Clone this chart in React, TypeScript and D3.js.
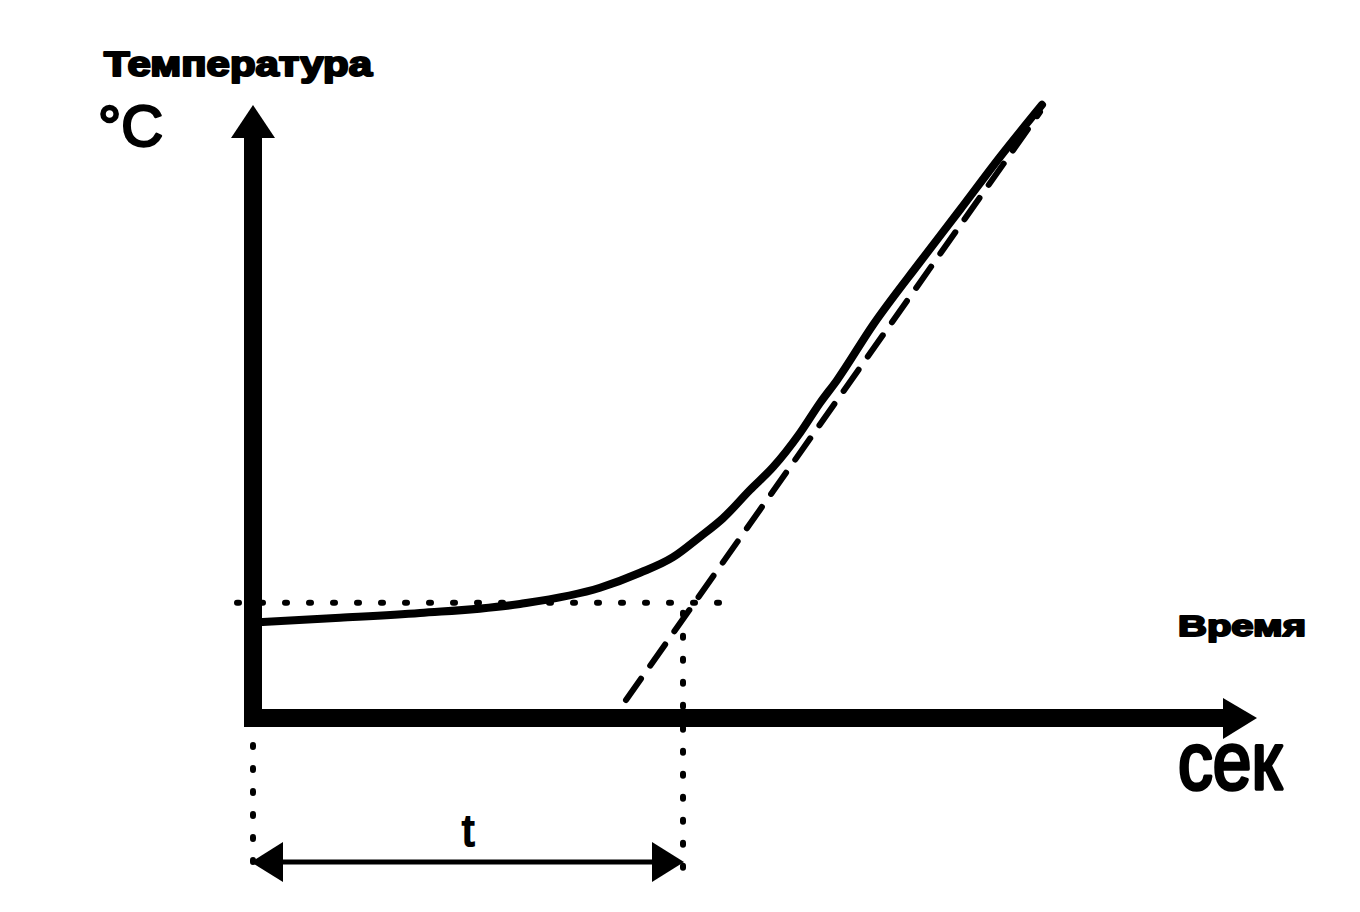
import React from "react";
import * as d3 from "d3";

// Heating curve (time in arbitrary units, temperature in arbitrary units)
const curveTime = [0.9, 8.7, 16.7, 26.7, 34.7, 38.7, 42.0, 44.7, 47.0, 49.7, 52.0, 54.7, 56.7, 58.4, 62.0, 66.7, 70.7, 74.7, 78.9];
const curveTemp = [16.0, 16.7, 17.5, 19.0, 21.7, 24.2, 26.8, 30.2, 33.3, 38.0, 41.8, 47.5, 52.5, 56.3, 65.5, 76.0, 84.7, 93.5, 102.2];

// Tangent (dashed) line endpoints
const tangentTime = [37.3, 78.7];
const tangentTemp = [3.0, 101.0];

// Initial temperature level (dotted horizontal)
const baseTime = [-1.6, 48.2];
const baseTemp = 19.2;

// Delay interval t
const delayStart = 0;
const delayEnd = 43;

const labels = {
  yTitle: "Температура",
  yUnit: "°C",
  xTitle: "Время",
  xUnit: "сек",
  delay: "t",
};

const W = 1360;
const H = 912;

export default function App() {
  const x = d3.scaleLinear().domain([0, 100]).range([253, 1253]);
  const y = d3.scaleLinear().domain([0, 100]).range([718, 118]);

  const pts: [number, number][] = curveTime.map((t, i) => [t, curveTemp[i]]);
  const line = d3
    .line<[number, number]>()
    .x((d) => x(d[0]))
    .y((d) => y(d[1]))
    .curve(d3.curveMonotoneX);

  const x0 = x(0);
  const y0 = y(0);
  const axisW = 18;

  const tx1 = x(delayStart);
  const tx2 = x(delayEnd);
  const arrowY = y(-24);

  return (
    <svg
      width={W}
      height={H}
      style={{ position: "absolute", left: 0, top: 0, background: "#fff" }}
      fontFamily="'Liberation Sans', Arial, sans-serif"
    >
      <rect width={W} height={H} fill="#fff" />
      {/* Y axis */}
      <line x1={x0} y1={y0 + axisW / 2} x2={x0} y2={135} stroke="#000" strokeWidth={axisW} />
      <path d={`M${x0},105 L${x0 - 22},138 L${x0 + 22},138 Z`} fill="#000" />
      {/* X axis */}
      <line x1={x0 - axisW / 2} y1={y0} x2={1226} y2={y0} stroke="#000" strokeWidth={axisW} />
      <path d={`M1257,${y0} L1223,${y0 - 20} L1223,${y0 + 21} Z`} fill="#000" />

      {/* dotted base level */}
      <line
        x1={x(baseTime[0])}
        y1={y(baseTemp)}
        x2={x(baseTime[1])}
        y2={y(baseTemp)}
        stroke="#000"
        strokeWidth={6}
        strokeLinecap="round"
        strokeDasharray="2 22"
      />

      {/* dashed tangent */}
      <line
        x1={x(tangentTime[0])}
        y1={y(tangentTemp[0])}
        x2={x(tangentTime[1])}
        y2={y(tangentTemp[1])}
        stroke="#000"
        strokeWidth={6}
        strokeLinecap="round"
        strokeDasharray="26 16"
      />

      {/* heating curve */}
      <path d={line(pts) || ""} fill="none" stroke="#000" strokeWidth={8} strokeLinecap="round" strokeLinejoin="round" />

      {/* vertical dotted lines */}
      <line
        x1={x(delayEnd)}
        y1={y(baseTemp) + 10}
        x2={x(delayEnd)}
        y2={y(-27)}
        stroke="#000"
        strokeWidth={6}
        strokeLinecap="round"
        strokeDasharray="2 21"
      />
      <line
        x1={x(delayStart)}
        y1={y(-4.5)}
        x2={x(delayStart)}
        y2={y(-25.5)}
        stroke="#000"
        strokeWidth={6}
        strokeLinecap="round"
        strokeDasharray="2 21"
      />

      {/* double arrow for t */}
      <line x1={tx1 + 20} y1={arrowY} x2={tx2 - 20} y2={arrowY} stroke="#000" strokeWidth={5} />
      <path d={`M${tx1 - 2},${arrowY} L${tx1 + 30},${arrowY - 20} L${tx1 + 30},${arrowY + 20} Z`} fill="#000" />
      <path d={`M${tx2 + 1},${arrowY} L${tx2 - 31},${arrowY - 20} L${tx2 - 31},${arrowY + 20} Z`} fill="#000" />
      <text x={(tx1 + tx2) / 2} y={846} fontSize={44} textAnchor="middle" fill="#000" stroke="#000" strokeWidth={2}>
        {labels.delay}
      </text>

      {/* texts */}
      <text x={104} y={76} fontSize={35} fontWeight="bold" textLength={268} lengthAdjust="spacingAndGlyphs" fill="#000" stroke="#000" strokeWidth={2.2} strokeLinejoin="round">
        {labels.yTitle}
      </text>
      <text x={98} y={146} fontSize={58} fill="#000" stroke="#000" strokeWidth={2.5} strokeLinejoin="round">
        {labels.yUnit}
      </text>
      <text x={1178} y={636} fontSize={30} fontWeight="bold" textLength={128} lengthAdjust="spacingAndGlyphs" fill="#000" stroke="#000" strokeWidth={2} strokeLinejoin="round">
        {labels.xTitle}
      </text>
      <text x={1178} y={789} fontSize={82} textLength={104} lengthAdjust="spacingAndGlyphs" fill="#000" stroke="#000" strokeWidth={3.5} strokeLinejoin="round">
        {labels.xUnit}
      </text>
    </svg>
  );
}
